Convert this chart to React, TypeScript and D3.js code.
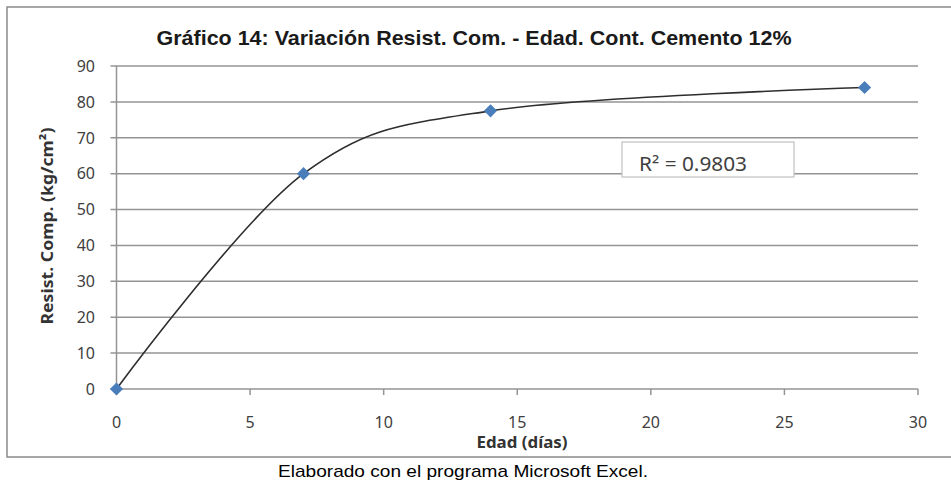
import React from "react";
import * as d3 from "d3";

const edadDias = [0, 7, 14, 28];
const resistencia = [0, 60, 77.5, 84];
const xTicks = [0, 5, 10, 15, 20, 25, 30];
const yTicks = [0, 10, 20, 30, 40, 50, 60, 70, 80, 90];
const titulo = "Gráfico 14: Variación Resist. Com. - Edad. Cont. Cemento 12%";
const ejeX = "Edad (días)";
const ejeY = "Resist. Comp. (kg/cm²)";
const r2Label = "R² = 0.9803";
const pie = "Elaborado con el programa Microsoft Excel.";

const W = 951;
const H = 482;
const PL = 116.5, PR = 918, PT = 66, PB = 389;

export default function App() {
  const x = d3.scaleLinear().domain([0, 30]).range([PL, PR]);
  const y = d3.scaleLinear().domain([0, 90]).range([PB, PT]);
  const pts: [number, number][] = edadDias.map((d, i) => [d, resistencia[i]]);
  const line = d3
    .line<[number, number]>()
    .x((d) => x(d[0]))
    .y((d) => y(d[1]))
    .curve(d3.curveCardinal.tension(0));
  const tickFont = "'Noto Sans', 'Open Sans', sans-serif";
  const grid = "#949494";
  const diamond = d3.symbol().type(d3.symbolDiamond2).size(110)() as string;
  return (
    <svg width={W} height={H} style={{ position: "absolute", left: 0, top: 0, background: "#fff" }}>
      <rect x={0} y={0} width={W} height={H} fill="#fff" />
      <rect x={7} y={7} width={945} height={450} fill="#fff" stroke="#8a8a8a" strokeWidth={1.5} />
      <text
        x={474}
        y={45}
        textAnchor="middle"
        fontFamily="'Liberation Sans', Arial, sans-serif"
        fontWeight="bold"
        fontSize={21}
        fill="#1a1a1a"
        textLength={635}
        lengthAdjust="spacingAndGlyphs"
      >
        {titulo}
      </text>
      {yTicks.map((t) => (
        <g key={"y" + t}>
          <line x1={PL - 6} x2={PR} y1={y(t)} y2={y(t)} stroke={grid} strokeWidth={1.5} />
          <text
            x={95}
            y={y(t)}
            dy="0.36em"
            textAnchor="end"
            fontFamily={tickFont}
            fontSize={16}
            fill="#404040"
          >
            {t}
          </text>
        </g>
      ))}
      <line x1={PL} x2={PL} y1={PT} y2={PB} stroke={grid} strokeWidth={1.5} />
      {xTicks.map((t) => (
        <g key={"x" + t}>
          <line x1={x(t)} x2={x(t)} y1={PB} y2={PB + 6} stroke={grid} strokeWidth={1.5} />
          <text
            x={x(t)}
            y={428}
            textAnchor="middle"
            fontFamily={tickFont}
            fontSize={16}
            fill="#404040"
          >
            {t}
          </text>
        </g>
      ))}
      <text
        x={522}
        y={448}
        textAnchor="middle"
        fontFamily={tickFont}
        fontWeight="bold"
        fontSize={16}
        fill="#333"
        textLength={91}
        lengthAdjust="spacingAndGlyphs"
      >
        {ejeX}
      </text>
      <text
        transform="translate(53,226) rotate(-90)"
        textAnchor="middle"
        fontFamily={tickFont}
        fontWeight="bold"
        fontSize={16}
        fill="#333"
        textLength={197}
        lengthAdjust="spacingAndGlyphs"
      >
        {ejeY}
      </text>
      <path d={line(pts) as string} fill="none" stroke="#2e2e2e" strokeWidth={1.6} />
      {pts.map((p, i) => (
        <path key={"m" + i} d={diamond} transform={`translate(${x(p[0])},${y(p[1])})`} fill="#4a7ebb" />
      ))}
      <rect x={622} y={142} width={172} height={35} fill="#fff" stroke="#c0c0c0" strokeWidth={1.2} />
      <text x={639} y={171} fontFamily={tickFont} fontSize={19} fill="#404040" textLength={108} lengthAdjust="spacingAndGlyphs">
        {r2Label}
      </text>
      <text
        x={463}
        y={477}
        textAnchor="middle"
        fontFamily="'Liberation Sans', Arial, sans-serif"
        fontSize={17}
        fill="#000"
        textLength={370}
        lengthAdjust="spacingAndGlyphs"
      >
        {pie}
      </text>
    </svg>
  );
}
